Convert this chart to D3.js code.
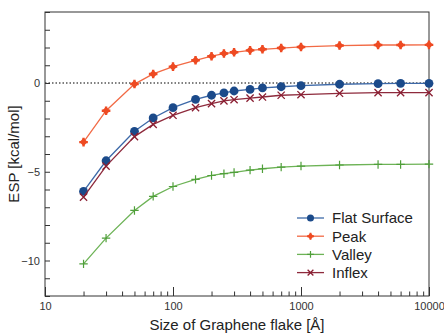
<!DOCTYPE html>
<html>
<head>
<meta charset="utf-8">
<script src="https://cdn.jsdelivr.net/npm/d3@7"></script>
<style>
  html, body { margin: 0; padding: 0; background: #fff; }
  svg { display: block; font-family: "Liberation Sans", Arial, sans-serif; }
</style>
</head>
<body>
<svg id="chart" width="444" height="333"></svg>
<script>
// Flake sizes (Å) and ESP values (kcal/mol) for each probe site
const sizes = [20, 30, 50, 70, 100, 150, 200, 250, 300, 400, 500, 700, 1000, 2000, 4000, 6000, 10000];
const flatSurface = [-6.11, -4.38, -2.72, -1.97, -1.39, -0.92, -0.69, -0.56, -0.45, -0.36, -0.28, -0.21, -0.15, -0.07, -0.04, -0.02, -0.02];
const peak = [-3.33, -1.56, -0.06, 0.51, 0.92, 1.28, 1.51, 1.66, 1.73, 1.84, 1.90, 1.97, 2.03, 2.11, 2.14, 2.14, 2.15];
const valley = [-10.19, -8.74, -7.18, -6.39, -5.83, -5.43, -5.21, -5.11, -5.04, -4.91, -4.83, -4.74, -4.68, -4.62, -4.59, -4.59, -4.57];
const inflex = [-6.43, -4.68, -3.02, -2.33, -1.82, -1.39, -1.16, -1.01, -0.94, -0.85, -0.79, -0.69, -0.66, -0.58, -0.54, -0.54, -0.54];

const seriesNames = ["Flat Surface", "Peak", "Valley", "Inflex"];
const seriesValues = [flatSurface, peak, valley, inflex];
const xTickLabels = ["10", "100", "1000", "10000"];
const yTickLabels = ["\u221210", "\u22125", "0"];
const yTickValues = [-10, -5, 0];

const styles = {
  "Flat Surface": { line: "#3d69a8", fill: "#1b4a8a", marker: "circle" },
  "Peak": { line: "#f26a45", fill: "#ee4a22", marker: "diamond" },
  "Valley": { line: "#6db356", fill: "#4f9f3a", marker: "plus" },
  "Inflex": { line: "#8e2a3c", fill: "#8a1e32", marker: "cross" }
};

const svg = d3.select("#chart");
const m = { left: 45, top: 12, right: 444 - 429, bottom: 333 - 296 };
const W = 444 - m.left - m.right;
const H = 333 - m.top - m.bottom;

const x = d3.scaleLog().domain([10, 10000]).range([m.left, m.left + W]);
const y = d3.scaleLinear().domain([-12, 4]).range([m.top + H, m.top]);

const g = svg.append("g");

// zero reference line
g.append("line")
  .attr("x1", x(10)).attr("x2", x(10000))
  .attr("y1", y(0)).attr("y2", y(0))
  .attr("stroke", "#555").attr("stroke-width", 1.3)
  .attr("stroke-dasharray", "1.5,2");

// y axis: inward ticks every unit, labels at -10, -5, 0
const yAxis = d3.axisLeft(y)
  .tickValues(d3.range(-12, 5, 1))
  .tickSizeInner(-5).tickSizeOuter(0)
  .tickFormat(d => { const i = yTickValues.indexOf(d); return i >= 0 ? yTickLabels[i] : ""; });
const ya = g.append("g").attr("transform", `translate(${m.left},0)`).call(yAxis);
ya.select(".domain").remove();
ya.selectAll("line").attr("stroke", "#333");
ya.selectAll("text").attr("x", -5).attr("font-size", 11).attr("fill", "#333")
  .attr("font-family", "Liberation Sans, Arial, sans-serif");

// x axis: log decades with minor ticks
const minor = [];
[10, 100, 1000].forEach(d => { for (let k = 2; k <= 9; k++) minor.push(d * k); });
const majors = [10, 100, 1000, 10000];
const xAxisMinor = d3.axisBottom(x).tickValues(minor).tickSizeInner(-4.5).tickSizeOuter(0).tickFormat("");
const xAxisMajor = d3.axisBottom(x).tickValues(majors).tickSizeInner(-9).tickSizeOuter(0)
  .tickFormat(d => xTickLabels[majors.indexOf(d)]);
const xm = g.append("g").attr("transform", `translate(0,${m.top + H})`).call(xAxisMinor);
xm.select(".domain").remove();
xm.selectAll("line").attr("stroke", "#333");
const xa = g.append("g").attr("transform", `translate(0,${m.top + H})`).call(xAxisMajor);
xa.select(".domain").remove();
xa.selectAll("line").attr("stroke", "#333");
xa.selectAll("text").attr("y", 6).attr("dy", "0.71em").attr("font-size", 11).attr("fill", "#333")
  .attr("font-family", "Liberation Sans, Arial, sans-serif");

// frame
g.append("rect")
  .attr("x", m.left).attr("y", m.top).attr("width", W).attr("height", H)
  .attr("fill", "none").attr("stroke", "#333").attr("stroke-width", 1);

// axis titles
svg.append("text")
  .attr("x", m.left + W / 2).attr("y", 330)
  .attr("text-anchor", "middle").attr("font-size", 15).attr("fill", "#222")
  .text("Size of Graphene flake [Å]");
svg.append("text")
  .attr("transform", `translate(19,${m.top + H / 2}) rotate(-90)`)
  .attr("text-anchor", "middle").attr("font-size", 15).attr("fill", "#222")
  .text("ESP [kcal/mol]");

function drawMarker(sel, type, st, scale) {
  const s = scale || 1;
  if (type === "circle") {
    sel.append("circle").attr("r", 4.4 * s).attr("fill", st.fill);
  } else if (type === "diamond") {
    const r = 4 * s, a = 1.2 * s, b = 4.3 * s;
    sel.append("path").attr("d", `M0,${-r}L${r},0L0,${r}L${-r},0Z`).attr("fill", st.fill);
    sel.append("path")
      .attr("d", `M${-a},${-b}H${a}V${-a}H${b}V${a}H${a}V${b}H${-a}V${a}H${-b}V${-a}H${-a}Z`)
      .attr("fill", st.fill);
  } else if (type === "plus") {
    const r = 4.2 * s;
    sel.append("path").attr("d", `M${-r},0H${r}M0,${-r}V${r}`)
      .attr("stroke", st.fill).attr("stroke-width", 1.2).attr("fill", "none");
  } else if (type === "cross") {
    const r = 3.6 * s;
    sel.append("path").attr("d", `M${-r},${-r}L${r},${r}M${-r},${r}L${r},${-r}`)
      .attr("stroke", st.fill).attr("stroke-width", 1.3).attr("fill", "none");
  }
}

const line = d3.line().x(d => x(d[0])).y(d => y(d[1]));

seriesNames.forEach((name, i) => {
  const st = styles[name];
  const pts = sizes.map((s, j) => [s, seriesValues[i][j]]);
  const sg = g.append("g");
  sg.append("path").attr("d", line(pts)).attr("fill", "none")
    .attr("stroke", st.line).attr("stroke-width", 1.3);
  sg.selectAll("g.pt").data(pts).enter().append("g")
    .attr("transform", d => `translate(${x(d[0])},${y(d[1])})`)
    .each(function () { drawMarker(d3.select(this), st.marker, st); });
});

// legend
const leg = svg.append("g").attr("transform", "translate(297,218)");
seriesNames.forEach((name, i) => {
  const st = styles[name];
  const row = leg.append("g").attr("transform", `translate(0,${i * 18.2})`);
  row.append("line").attr("x1", 0).attr("x2", 27).attr("y1", 0).attr("y2", 0)
    .attr("stroke", st.line).attr("stroke-width", 1.3);
  const mk = row.append("g").attr("transform", "translate(13.5,0)");
  drawMarker(mk, st.marker, st, 0.8);
  row.append("text").attr("x", 35).attr("y", 0).attr("dy", "0.36em")
    .attr("font-size", 15).attr("fill", "#222").text(name);
});
</script>
</body>
</html>
